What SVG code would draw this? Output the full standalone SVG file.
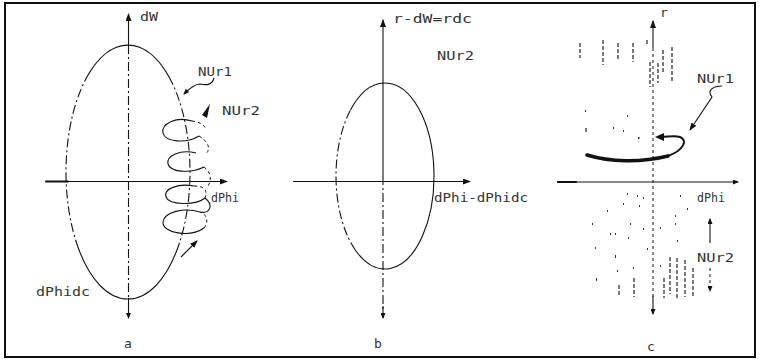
<svg xmlns="http://www.w3.org/2000/svg" width="760" height="364" viewBox="0 0 760 364">
<defs>
<marker id="ah" markerWidth="8" markerHeight="6" refX="7" refY="3" orient="auto" markerUnits="userSpaceOnUse"><path d="M0,0 L8,3 L0,6 Z" fill="#111"/></marker>
<marker id="ahs" markerWidth="6" markerHeight="5" refX="5" refY="2.5" orient="auto" markerUnits="userSpaceOnUse"><path d="M0,0 L6,2.5 L0,5 Z" fill="#111"/></marker>
<style>
.ln{fill:none;stroke:#111;stroke-width:1.1}
.dd{fill:none;stroke:#111;stroke-width:1.1;stroke-dasharray:9 3 2 3}
.ds{fill:none;stroke:#111;stroke-width:1;stroke-dasharray:3 3}
.tk{fill:none;stroke:#111;stroke-linecap:round}
.ht{stroke:#222;stroke-width:1.2;stroke-dasharray:4 2}
.dot{fill:#333}
text{font-family:"DejaVu Sans Mono","Liberation Mono",monospace;font-size:13px;fill:#333}
</style>
</defs>
<rect x="5" y="3" width="750" height="354" fill="#fff" stroke="#111" stroke-width="2"/>

<g id="panel-a">
<g id="axes-a">
<line class="ln" x1="128.5" y1="45" x2="128.5" y2="14" marker-end="url(#ah)"/>
<line class="dd" x1="128.5" y1="45" x2="128.5" y2="298"/>
<line class="ln" x1="128.5" y1="298" x2="128.5" y2="318" marker-end="url(#ahs)"/>
<line class="ln" x1="45" y1="181.5" x2="227" y2="181.5" marker-end="url(#ah)"/>
<line class="tk" x1="46" y1="181.5" x2="68" y2="181.5" stroke-width="2"/>
</g>
<g id="ellipse-a">
<path class="ln" d="M86.9,77 A62,127 0 0 1 169.1,77"/>
<path class="dd" d="M169.1,77 A62,127 0 0 1 177.7,248"/>
<path class="ln" d="M177.7,248 A62,127 0 0 1 78.3,248"/>
<path class="dd" d="M78.3,248 A62,127 0 0 1 86.9,77"/>
</g>
<g id="helix-a">
<path class="ln" d="M192,121 C176,116 161,124 163,133 C165,142 186,144 199,136"/>
<path class="ds" d="M199,136 C208,141 212,150 205,154"/>
<path class="ln" d="M196,153 C180,149 166,156 168,164 C170,172 190,174 204,167"/>
<path class="ds" d="M204,167 C211,172 212,180 208,186"/>
<path class="ln" d="M194,186 C178,183 163,189 166,197 C169,205 195,206 205,198"/>
<path class="ds" d="M194,186 C204,186 208,190 205,198"/>
<path class="ln" d="M205,198 C214,205 210,214 200,212 C184,207 164,212 163,222 C162,233 190,238 204,228"/>
<path class="ds" d="M204,228 C209,222 207,214 200,212"/>
<path class="ds" d="M192,121 C200,122 205,125 206,130"/>
<path d="M210,104 L207,118 L202,115 Z" fill="#111"/>
<line class="ln" x1="181" y1="257" x2="197" y2="241" marker-end="url(#ah)"/>
</g>
<g id="labels-a">
<text x="140" y="21" textLength="18" lengthAdjust="spacingAndGlyphs">dW</text>
<text x="198" y="76" textLength="34" lengthAdjust="spacingAndGlyphs">NUr1</text>
<path class="ln" d="M214,78 C212,86 205,85 200,84 C195,84 190,88 184,94" marker-end="url(#ahs)"/>
<text x="222" y="115" textLength="38" lengthAdjust="spacingAndGlyphs">NUr2</text>
<text x="211" y="202" textLength="28" lengthAdjust="spacingAndGlyphs">dPhi</text>
<text x="36" y="296" textLength="54" lengthAdjust="spacingAndGlyphs">dPhidc</text>
<text x="124" y="348">a</text>
</g>
</g>

<g id="panel-b">
<g id="axes-b">
<line class="ln" x1="383" y1="176" x2="383" y2="20" marker-end="url(#ah)"/>
<line class="dd" x1="383" y1="176" x2="383" y2="312"/>
<line class="ln" x1="383" y1="306" x2="383" y2="318" marker-end="url(#ahs)"/>
<line class="ln" x1="293" y1="181.5" x2="470" y2="181.5" marker-end="url(#ah)"/>
</g>
<g id="ellipse-b">
<path class="ln" d="M350.5,110 A49,93 0 1 1 355.3,250"/>
<path class="dd" d="M355.3,250 A49,93 0 0 1 350.5,110"/>
</g>
<g id="labels-b">
<text x="393" y="23" textLength="79" lengthAdjust="spacingAndGlyphs">r-dW=rdc</text>
<text x="437" y="60" textLength="37" lengthAdjust="spacingAndGlyphs">NUr2</text>
<text x="434" y="202" textLength="94" lengthAdjust="spacingAndGlyphs">dPhi-dPhidc</text>
<text x="374" y="348">b</text>
</g>
</g>

<g id="panel-c">
<g id="axes-c">
<line class="ln" x1="653" y1="48" x2="653" y2="21" marker-end="url(#ah)"/>
<line class="ds" x1="653" y1="48" x2="653" y2="300" stroke-dasharray="7 3"/>
<line class="ln" x1="653" y1="296" x2="653" y2="314" stroke-width="1.6" marker-end="url(#ahs)"/>
<line class="ln" x1="557" y1="182" x2="738" y2="182" marker-end="url(#ahs)"/>
<line class="tk" x1="558" y1="182" x2="576" y2="182" stroke-width="2.2"/>
</g>
<g id="hatch-c">
<line class="ht" x1="580" y1="43" x2="580" y2="58"/>
<line class="ht" x1="603" y1="40" x2="603" y2="65"/>
<line class="ht" x1="618" y1="43" x2="618" y2="60"/>
<line class="ht" x1="633" y1="43" x2="633" y2="62"/>
<line class="ht" x1="647" y1="40" x2="647" y2="45"/>
<line class="ht" x1="650" y1="62" x2="650" y2="87"/>
<line class="ht" x1="658" y1="63" x2="658" y2="83"/>
<line class="ht" x1="663" y1="50" x2="663" y2="72"/>
<line class="ht" x1="672" y1="47" x2="672" y2="82"/>
<line class="ht" x1="586" y1="128" x2="586" y2="134"/>
<line class="ht" x1="619" y1="285" x2="619" y2="297"/>
<line class="ht" x1="634" y1="278" x2="634" y2="297"/>
<line class="ht" x1="664" y1="278" x2="664" y2="298"/>
<line class="ht" x1="670" y1="257" x2="670" y2="294"/>
<line class="ht" x1="677" y1="258" x2="677" y2="298"/>
<line class="ht" x1="685" y1="260" x2="685" y2="297"/>
<line class="ht" x1="693" y1="268" x2="693" y2="298"/>
<rect class="dot" x="585" y="110" width="1" height="2"/>
<rect class="dot" x="627" y="115" width="1" height="2"/>
<rect class="dot" x="613" y="127" width="1" height="2"/>
<rect class="dot" x="638" y="137" width="1.5" height="2"/>
<rect class="dot" x="623" y="130" width="1" height="2"/>
<rect class="dot" x="698" y="80" width="1" height="2"/>
<rect class="dot" x="627" y="193" width="1" height="2"/>
<rect class="dot" x="637" y="195" width="1" height="2"/>
<rect class="dot" x="643" y="197" width="1" height="2"/>
<rect class="dot" x="623" y="203" width="1" height="2"/>
<rect class="dot" x="639" y="205" width="1" height="2"/>
<rect class="dot" x="607" y="210" width="1" height="2"/>
<rect class="dot" x="680" y="195" width="1" height="2"/>
<rect class="dot" x="687" y="208" width="1" height="2"/>
<rect class="dot" x="675" y="215" width="1" height="2"/>
<rect class="dot" x="592" y="223" width="1" height="2"/>
<rect class="dot" x="630" y="223" width="1" height="2"/>
<rect class="dot" x="675" y="223" width="1" height="2"/>
<rect class="dot" x="615" y="233" width="1" height="2"/>
<rect class="dot" x="610" y="233" width="1" height="2"/>
<rect class="dot" x="643" y="228" width="1" height="2"/>
<rect class="dot" x="660" y="227" width="1" height="2"/>
<rect class="dot" x="628" y="237" width="1" height="2"/>
<rect class="dot" x="677" y="240" width="1" height="2"/>
<rect class="dot" x="595" y="247" width="1" height="2"/>
<rect class="dot" x="615" y="255" width="1" height="3"/>
<rect class="dot" x="647" y="248" width="1" height="2"/>
<rect class="dot" x="633" y="267" width="1" height="2"/>
<rect class="dot" x="660" y="265" width="1" height="2"/>
<rect class="dot" x="596" y="278" width="1" height="3"/>
<rect class="dot" x="617" y="270" width="1" height="2"/>
</g>
<g id="curve-c">
<path class="tk" d="M587,155 C610,162 640,163 668,156" stroke-width="3.5"/>
<path class="tk" d="M668,156 C684,150 688,140 680,137 C674,135 668,137 662,137" stroke-width="2"/>
<path d="M655,137 L664,133 L664,141 Z" fill="#111"/>
</g>
<g id="labels-c">
<text x="660" y="17" font-size="11">r</text>
<text x="697" y="83" textLength="37" lengthAdjust="spacingAndGlyphs">NUr1</text>
<path class="ln" d="M722,86 C714,86 706,90 712,97 L690,130" marker-end="url(#ah)"/>
<text x="697" y="202" textLength="28" lengthAdjust="spacingAndGlyphs">dPhi</text>
<text x="697" y="262" textLength="37" lengthAdjust="spacingAndGlyphs">NUr2</text>
<line class="ln" x1="710" y1="243" x2="710" y2="219" marker-end="url(#ahs)"/>
<line class="ds" x1="710" y1="268" x2="710" y2="291" marker-end="url(#ahs)"/>
<text x="647" y="351">c</text>
</g>
</g>
</svg>
